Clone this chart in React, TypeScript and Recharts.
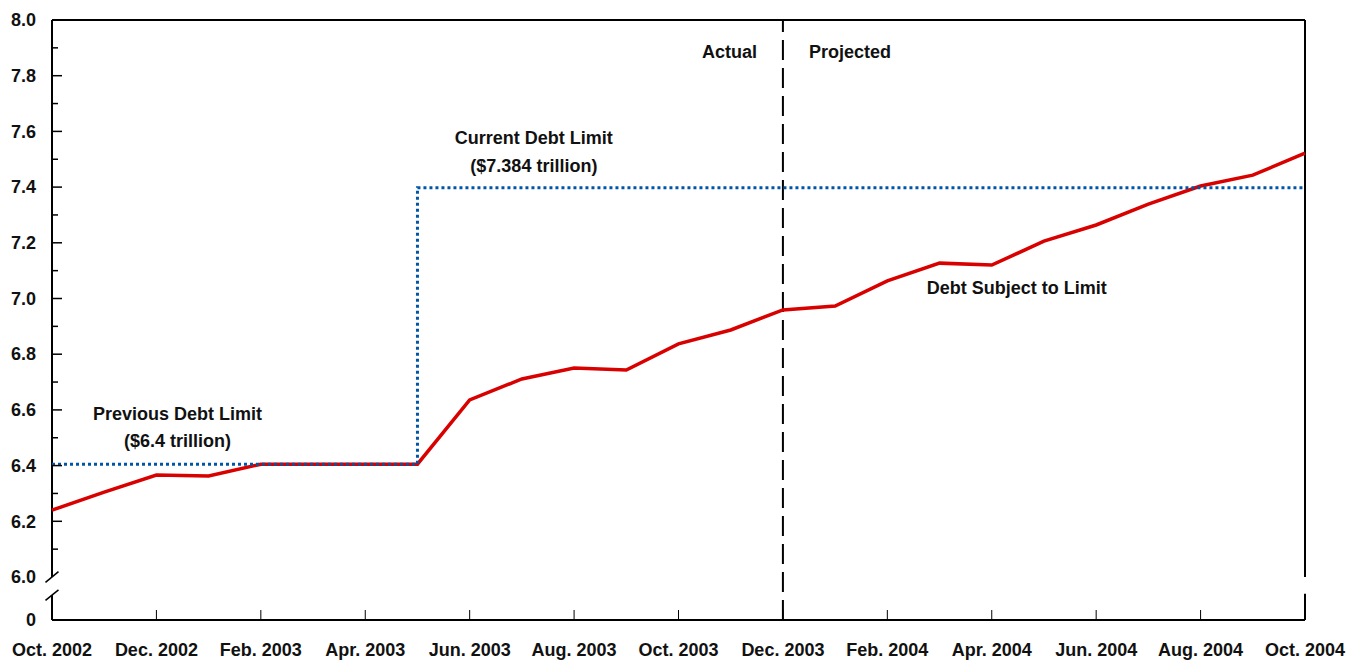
import React from 'react';
import { LineChart, Line, XAxis, YAxis, ReferenceLine, ReferenceDot } from 'recharts';

const months = [
  'Oct. 2002', 'Nov. 2002', 'Dec. 2002', 'Jan. 2003', 'Feb. 2003', 'Mar. 2003', 'Apr. 2003',
  'May 2003', 'Jun. 2003', 'Jul. 2003', 'Aug. 2003', 'Sep. 2003', 'Oct. 2003', 'Nov. 2003',
  'Dec. 2003', 'Jan. 2004', 'Feb. 2004', 'Mar. 2004', 'Apr. 2004', 'May 2004', 'Jun. 2004',
  'Jul. 2004', 'Aug. 2004', 'Sep. 2004', 'Oct. 2004',
];
const debtSubjectToLimit = [
  6.24, 6.305, 6.366, 6.363, 6.405, 6.405, 6.405, 6.405, 6.636, 6.711, 6.75, 6.743, 6.837,
  6.887, 6.959, 6.973, 7.063, 7.127, 7.12, 7.206, 7.264, 7.339, 7.404, 7.443, 7.522,
];
const debtLimit = [
  6.405, 6.405, 6.405, 6.405, 6.405, 6.405, 6.405, 6.405, 7.398, 7.398, 7.398, 7.398, 7.398,
  7.398, 7.398, 7.398, 7.398, 7.398, 7.398, 7.398, 7.398, 7.398, 7.398, 7.398, 7.398,
];
const yMajorTicks = [6.0, 6.2, 6.4, 6.6, 6.8, 7.0, 7.2, 7.4, 7.6, 7.8, 8.0];
const yMinorTicks = [6.1, 6.3, 6.5, 6.7, 6.9, 7.1, 7.3, 7.5, 7.7, 7.9];
const yZeroPosition = 5.8456; // axis-break: the bottom of the axis is labelled 0
const yBreakLower = 5.935;

const data = months.map((m, i) => ({
  month: m,
  debt: debtSubjectToLimit[i],
  limit: debtLimit[i],
}));

const FONT = '"Liberation Sans", Arial, sans-serif';
const textStyle = { fontFamily: FONT, fontWeight: 700, fontSize: 18, fill: '#111' };

const XTick = (props: any) => {
  const { x, y, payload, index } = props;
  const isEdge = payload.value === months[0] || payload.value === months[months.length - 1];
  return (
    <g>
      {!isEdge && <line x1={x} x2={x} y1={y} y2={y - 10} stroke="#000" strokeWidth={1} />}
      <text x={x} y={y + 30} dy="0.35em" textAnchor="middle" style={textStyle}>
        {payload.value}
      </text>
    </g>
  );
};

const YTick = (props: any) => {
  const { x, y, payload } = props;
  const v = payload.value;
  const isZero = Math.abs(v - yZeroPosition) < 1e-6;
  const isMajor = yMajorTicks.some((t) => Math.abs(t - v) < 1e-6);
  const isEnd = Math.abs(v - 6.0) < 1e-6 || Math.abs(v - 8.0) < 1e-6;
  return (
    <g>
      {!isZero && !isEnd && (
        <line x1={x} x2={x + (isMajor ? 10 : 6)} y1={y} y2={y} stroke="#000" strokeWidth={1.5} />
      )}
      {(isMajor || isZero) && (
        <text x={x - 16} y={y} dy="0.35em" textAnchor="end" style={textStyle}>
          {isZero ? '0' : v.toFixed(1)}
        </text>
      )}
    </g>
  );
};

const Slash = (props: any) => {
  const { cx, cy } = props;
  return (
    <line x1={cx - 6.5} y1={cy + 5.3} x2={cx + 6.5} y2={cy - 5.3} stroke="#000" strokeWidth={1.5} />
  );
};

const makeText = (lines: string[], anchor: string, dx: number, lineGap = 27) => (props: any) => {
  const { cx, cy } = props;
  return (
    <g>
      {lines.map((l, i) => (
        <text key={i} x={cx + dx} y={cy + i * lineGap} dy="0.35em" textAnchor={anchor} style={textStyle}>
          {l}
        </text>
      ))}
    </g>
  );
};

export default function App() {
  const first = months[0];
  const last = months[months.length - 1];
  return (
    <div style={{ position: 'absolute', left: 0, top: 0 }}>
      <LineChart
        width={1359}
        height={660}
        data={data}
        margin={{ top: 20, right: 54, bottom: 0, left: 0 }}
      >
        <XAxis
          dataKey="month"
          interval={1}
          height={40}
          tickLine={false}
          tickSize={0}
          tickMargin={0}
          tick={<XTick />}
          axisLine={{ stroke: '#000', strokeWidth: 2 }}
        />
        <YAxis
          width={52}
          domain={[yZeroPosition, 8]}
          ticks={[yZeroPosition, ...yMajorTicks, ...yMinorTicks].sort((a, b) => a - b)}
          allowDataOverflow
          axisLine={false}
          tickLine={false}
          tickSize={0}
          tickMargin={0}
          tick={<YTick />}
        />
        <ReferenceLine y={8} stroke="#000" strokeWidth={2} />
        <ReferenceLine segment={[{ x: first, y: 8 }, { x: first, y: 6.0 }]} stroke="#000" strokeWidth={2} />
        <ReferenceLine segment={[{ x: first, y: yBreakLower }, { x: first, y: yZeroPosition }]} stroke="#000" strokeWidth={2} />
        <ReferenceLine segment={[{ x: last, y: 8 }, { x: last, y: 6.0 }]} stroke="#000" strokeWidth={2} />
        <ReferenceLine segment={[{ x: last, y: 5.94 }, { x: last, y: yZeroPosition }]} stroke="#000" strokeWidth={2} />
        <ReferenceDot x={first} y={6.0} shape={<Slash />} />
        <ReferenceDot x={first} y={yBreakLower} shape={<Slash />} />
        <ReferenceLine x="Dec. 2003" stroke="#000" strokeWidth={2} strokeDasharray="20 8" />
        <Line
          dataKey="debt"
          stroke="#d90000"
          strokeWidth={3.5}
          dot={false}
          isAnimationActive={false}
          type="linear"
        />
        <Line
          dataKey="limit"
          stroke="#0055a5"
          strokeWidth={3}
          strokeDasharray="3 3"
          dot={false}
          isAnimationActive={false}
          type="stepBefore"
        />
        <ReferenceDot x="Jul. 2003" y={7.576} shape={makeText(['Current Debt Limit', '($7.384 trillion)'], 'middle', 12, 28)} />
        <ReferenceDot x="Dec. 2002" y={6.585} shape={makeText(['Previous Debt Limit', '($6.4 trillion)'], 'middle', 21, 27)} />
        <ReferenceDot x="Dec. 2003" y={7.885} shape={makeText(['Actual'], 'end', -26)} />
        <ReferenceDot x="Dec. 2003" y={7.885} shape={makeText(['Projected'], 'start', 26)} />
        <ReferenceDot x="Apr. 2004" y={7.038} shape={makeText(['Debt Subject to Limit'], 'middle', 25)} />
      </LineChart>
    </div>
  );
}
